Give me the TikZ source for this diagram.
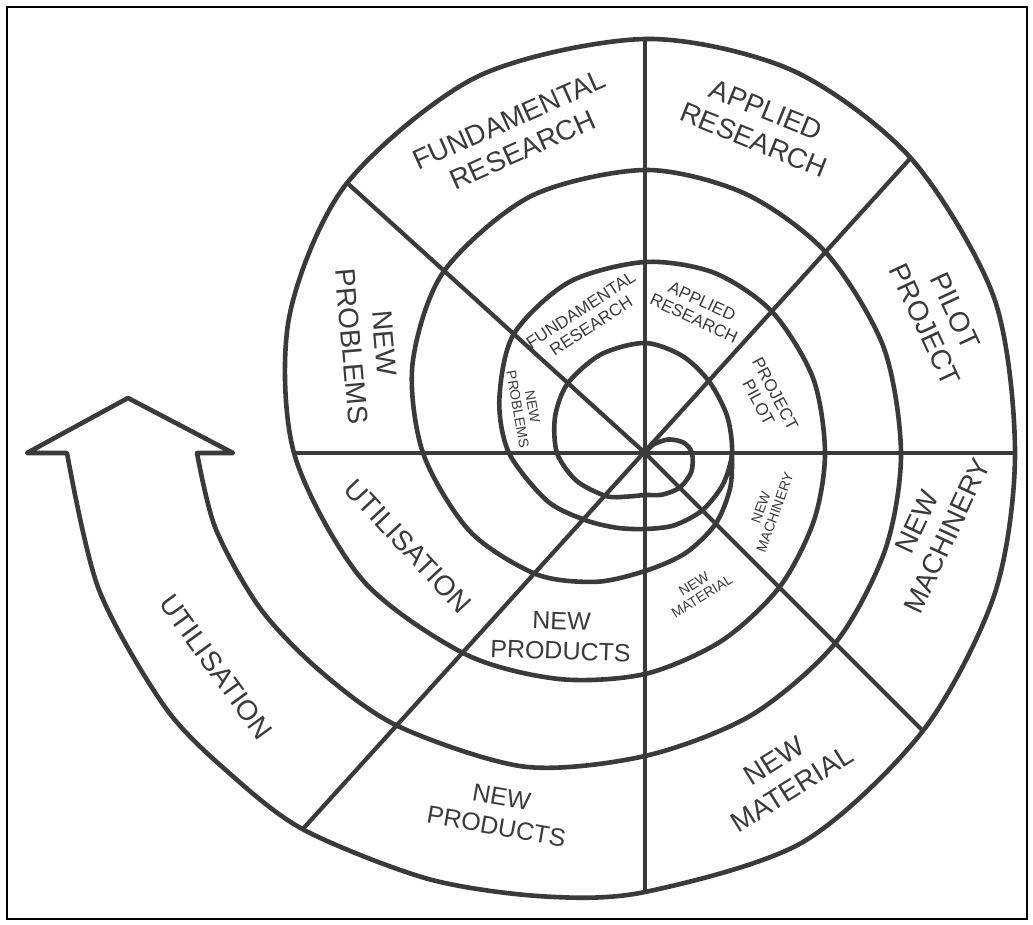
\documentclass[tikz,border=0pt]{standalone}
\usepackage{fontspec}
\setmainfont{Liberation Sans}
\definecolor{ink}{RGB}{58,58,58}
\begin{document}
\begin{tikzpicture}[x=1pt,y=1pt,
  curve/.style={draw=ink, line width=4.6pt, line cap=round, line join=round},
  spoke/.style={draw=ink, line width=4.2pt},
  frame/.style={draw=black, line width=2pt},
  biglab/.style={font=\fontsize{28}{33}\selectfont, text=ink, align=center, inner sep=0pt},
  midlab/.style={font=\fontsize{25}{30}\selectfont, text=ink, align=center, inner sep=0pt},
  smalllab/.style={font=\fontsize{17}{19}\selectfont, text=ink, align=center, inner sep=0pt},
  tinylab/.style={font=\fontsize{14}{15}\selectfont, text=ink, align=center, inner sep=0pt}]
\useasboundingbox (0,0) rectangle (1033,925);
\draw[frame] (7,6) rectangle (1027,918);
\begin{scope}[shift={(645,472)}]
% radial spokes
\coordinate (pN) at (90:414);
\coordinate (pS) at (-90:439);
\coordinate (pE) at (0:369);
\coordinate (pW) at (180:351);
\coordinate (pNE) at (48:397);
\coordinate (pSW) at (-132.3:508);
\coordinate (pNW) at (137.8:402);
\coordinate (pSE) at (-45:393);
\coordinate (ctr) at (0,0);
\draw[spoke] (pN) -- (pS);
\draw[spoke] (pW) -- (pE);
\draw[spoke] (pNE) -- (pSW);
\draw[spoke] (pNW) -- (ctr) -- (pSE);
% arrowhead corners
\coordinate (aL) at (-618,0);
\coordinate (aTip) at (-517,55);
\coordinate (aR) at (-412,0);
\coordinate (aIn) at (-448,0);
% main spiral, ending as the outer edge of the arrow;
% then the arrowhead; then the second spiral (inner edge of the arrow) back to its branch point
\draw[curve] plot[smooth, tension=0.5] coordinates {
 (ctr) (45:12) (30:27) (15:40) (0:47) (-22:50) (-45:49) (-68:45) (-90:42)
 (-112:47) (-132:58) (-158:74) (-180:88) (-202:97) (-222:104) (-246:108)
 (-270:110) (-291:104) (-312:96) (-336:90) (-360:87) (-382:84) (-405:81)
 (-428:78) (-450:76) (-471:80) (-492:90) (-514:109) (-540:136) (-560:155)
 (-582:177) (-606:187) (-630:191) (-651:193) (-672:190) (-696:184) (-720:180)
 (-742:182) (-765:190) (-788:203) (-810:221) (-831:242) (-852:270) (-876:310)
 (-900:351) (-921:381) (-942:402) (-966:412) (-990:414) (-1011:410) (-1032:397)
 (-1056:382) (-1080:370) (-1102:377) (-1125:393) (-1148:420) (-1170:439)
 (-1183:455) (-1197:478) (-1212:508) (-1222:524) (-1232:543) (-1246:563) (-1260:578)}
 -- (aL) -- (aTip) -- (aR) -- (aIn)
 -- plot[smooth, tension=0.5] coordinates {
 (-900:448) (-890:436) (-878:415) (-866:391) (-852:368) (-831:336) (-810:303)
 (-788:283) (-765:269) (-742:259) (-720:256) (-696:261) (-672:270) (-651:278)
 (-630:283) (-606:281) (-582:271) (-561:249) (-540:222) (-516:192) (-492:163)
 (-471:138) (-450:118) (-428:108) (-405:100) (-382:92) (-360:87)};
% labels, outer turn
\node[biglab, rotate=24] (lFR) at (-129,318) {FUNDAMENTAL\\RESEARCH};
\node[biglab, rotate=-22] (lAR) at (115,328) {APPLIED\\RESEARCH};
\node[biglab, rotate=-65] (lPP) at (295,135) {PILOT\\PROJECT};
\node[biglab, rotate=65] (lNM) at (287,-76) {NEW\\MACHINERY};
\node[biglab, rotate=32] (lNMat) at (138,-322) {NEW\\MATERIAL};
\node[midlab, rotate=-10] (lNP) at (-146,-359) {NEW\\PRODUCTS};
\node[biglab, rotate=-54] (lU) at (-429,-214) {UTILISATION};
% labels, middle turn
\node[biglab, rotate=-85] (lNPr) at (-277,108) {NEW\\PROBLEMS};
\node[biglab, rotate=-47] (lU2) at (-237,-93) {UTILISATION};
\node[midlab, rotate=-2] (lNP2) at (-84,-183) {NEW\\PRODUCTS};
% labels, inner turn
\node[smalllab, rotate=33] (sFR) at (-59,135) {FUNDAMENTAL\\RESEARCH};
\node[smalllab, rotate=-25] (sAR) at (53,143) {APPLIED\\RESEARCH};
\node[smalllab, rotate=-62] (sPP) at (122,55) {PROJECT\\PILOT};
\node[tinylab, rotate=70] (sNM) at (123,-57) {NEW\\MACHINERY};
\node[tinylab, rotate=32] (sNMat) at (53,-137) {NEW\\MATERIAL};
\node[tinylab, rotate=-80] (sNPr) at (-120,45) {NEW\\PROBLEMS};
\end{scope}
\end{tikzpicture}
\end{document}
